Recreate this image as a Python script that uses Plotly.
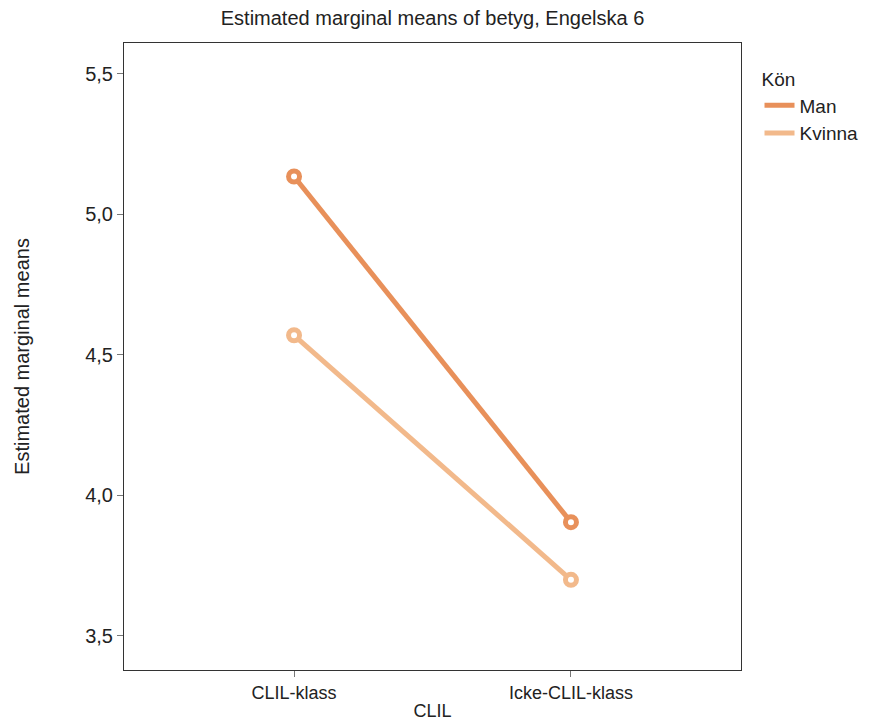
import plotly.graph_objects as go

# Estimated marginal means of grade (betyg) for Engelska 6, by CLIL group and gender
clil_groups = ["CLIL-klass", "Icke-CLIL-klass"]
man_means = [5.135, 3.905]
kvinna_means = [4.57, 3.70]
y_ticks = [3.5, 4.0, 4.5, 5.0, 5.5]
y_tick_labels = ["3,5", "4,0", "4,5", "5,0", "5,5"]

series = [
    ("Man", man_means, "#E8905A"),
    ("Kvinna", kvinna_means, "#F2B98B"),
]

fig = go.Figure()
for name, vals, color in series:
    # line (shown in legend as a plain line)
    fig.add_trace(go.Scatter(
        x=clil_groups, y=vals, name=name, mode="lines",
        line=dict(color=color, width=5), legendgroup=name,
    ))
    # open circle markers at the means
    fig.add_trace(go.Scatter(
        x=clil_groups, y=vals, name=name, mode="markers",
        marker=dict(symbol="circle", size=11, color="white",
                    line=dict(color=color, width=5)),
        showlegend=False, legendgroup=name,
    ))

font = "Liberation Sans, Arial, sans-serif"
fig.update_layout(
    width=871, height=722,
    margin=dict(l=124, r=130, t=43, b=52, autoexpand=False),
    paper_bgcolor="white", plot_bgcolor="white",
    font=dict(family=font, size=18, color="#222222"),
    title=dict(text="Estimated marginal means of betyg, Engelska 6",
               x=0.4966, xanchor="center", y=0.975, yanchor="middle",
               font=dict(family=font, size=20, color="#222222")),
    showlegend=True,
    legend=dict(title=dict(text="Kön", font=dict(size=19)),
                x=1.030, xanchor="left",
                y=0.97, yanchor="top",
                font=dict(size=19), tracegroupgap=0,
                bgcolor="rgba(0,0,0,0)"),
)
fig.update_xaxes(
    type="category", range=[-0.614, 1.614], automargin=False,
    title=dict(text="CLIL", standoff=2, font=dict(size=18)),
    showline=True, linecolor="#333333", linewidth=1, mirror=True,
    ticks="outside", ticklen=6, tickcolor="#777777",
    showgrid=False, zeroline=False, tickfont=dict(size=18),
)
fig.update_yaxes(
    range=[3.379, 5.61], automargin=False,
    tickvals=y_ticks, ticktext=y_tick_labels,
    title=dict(text="Estimated marginal means", standoff=50, font=dict(size=20)),
    showline=True, linecolor="#333333", linewidth=1, mirror=True,
    ticks="outside", ticklen=6, tickcolor="#777777",
    showgrid=False, zeroline=False, tickfont=dict(size=20),
)

fig.write_html("out.html")
